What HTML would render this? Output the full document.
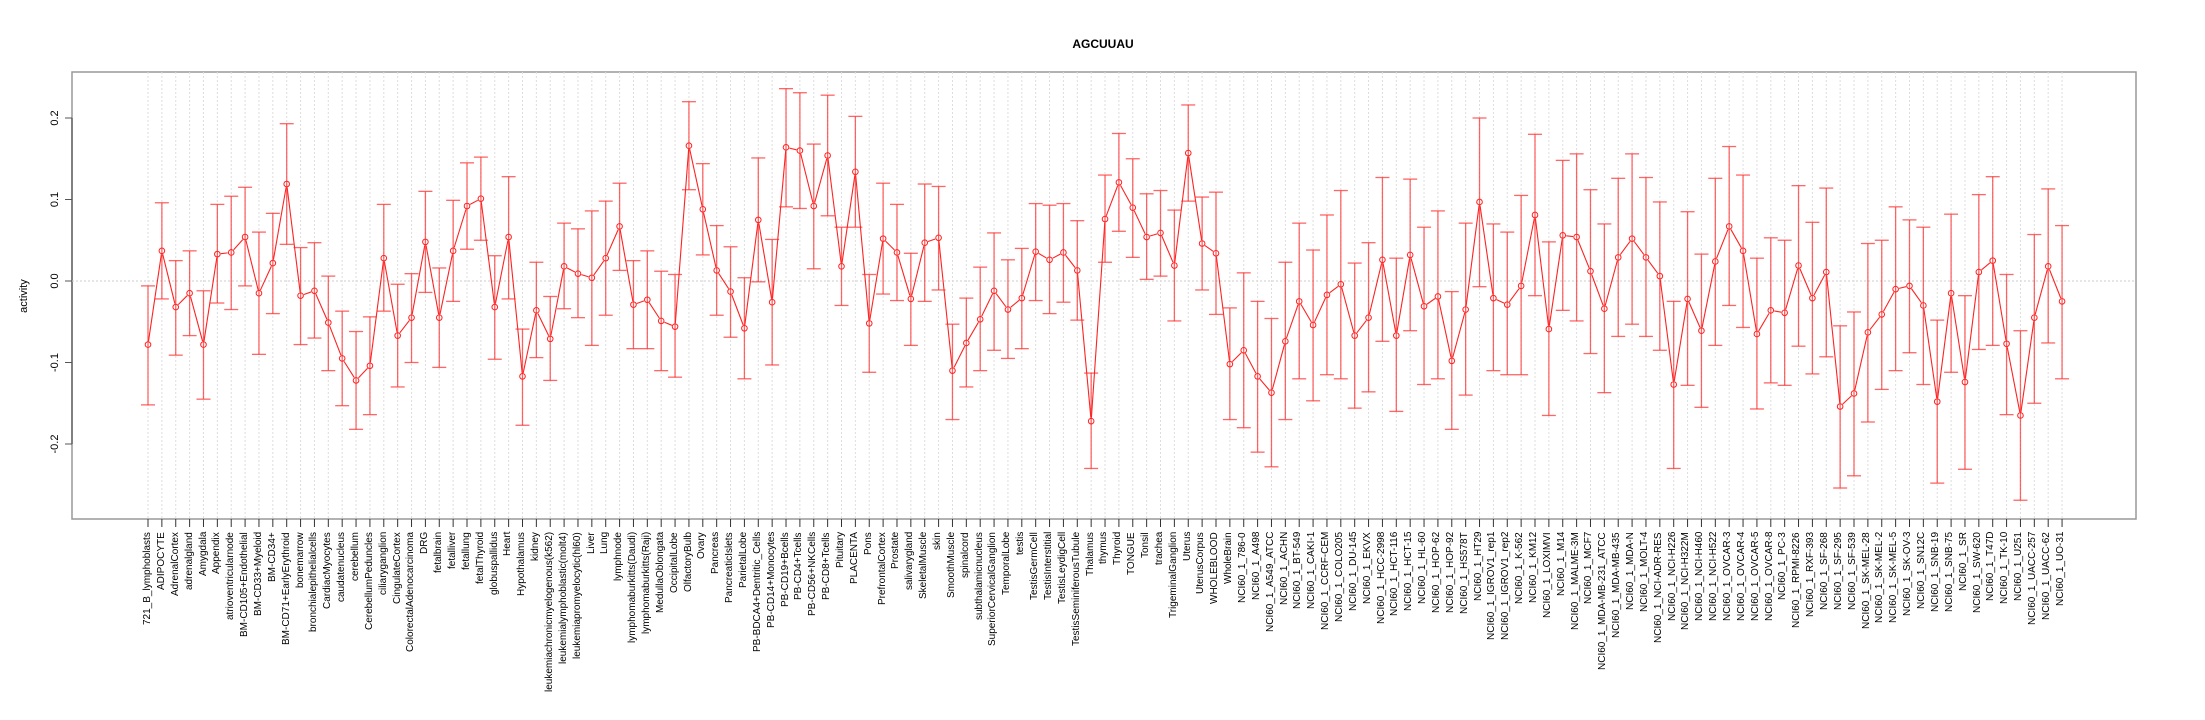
<!DOCTYPE html>
<html><head><meta charset="utf-8"><style>
html,body{margin:0;padding:0;background:#fff;}
#wrap{position:relative;width:2205px;height:720px;overflow:hidden;font-family:"Liberation Sans",Arial,sans-serif;}
svg{position:absolute;left:0;top:0;}
#labels{position:absolute;left:141.07px;top:532px;display:grid;grid-template-columns:repeat(139,13.87px);height:160px;}
#labels span{writing-mode:vertical-rl;transform:rotate(180deg);text-align:end;font-size:10px;line-height:13.87px;height:160px;white-space:nowrap;color:#000;}
</style></head><body><div id="wrap">
<svg id="s" width="2205" height="720" xmlns="http://www.w3.org/2000/svg">
<text x="1103" y="48" text-anchor="middle" font-family="Liberation Sans, sans-serif" font-weight="bold" font-size="12">AGCUUAU</text>
<rect x="72" y="72" width="2064" height="447" fill="none" stroke="#999" stroke-width="1.5"/>
<line x1="72" y1="118" x2="72" y2="444" stroke="#666" stroke-width="1.5"/>
<g stroke="#555" stroke-width="1">
<line x1="65" y1="118" x2="72" y2="118"/><line x1="65" y1="199.5" x2="72" y2="199.5"/><line x1="65" y1="281" x2="72" y2="281"/><line x1="65" y1="362.5" x2="72" y2="362.5"/><line x1="65" y1="444" x2="72" y2="444"/>
</g>
<g font-family="Liberation Sans, sans-serif" font-size="11" text-anchor="middle">
<text transform="translate(58,118) rotate(-90)">0.2</text>
<text transform="translate(58,199.5) rotate(-90)">0.1</text>
<text transform="translate(58,281) rotate(-90)">0.0</text>
<text transform="translate(58,362.5) rotate(-90)">-0.1</text>
<text transform="translate(58,444) rotate(-90)">-0.2</text>
<text transform="translate(27,296) rotate(-90)">activity</text>
</g>
<line x1="72" y1="281" x2="2136" y2="281" stroke="#ccc" stroke-width="1" stroke-dasharray="2,2"/>
<g id="g"></g>
</svg>
<div id="labels">
<span>721_B_lymphoblasts</span><span>ADIPOCYTE</span><span>AdrenalCortex</span><span>adrenalgland</span><span>Amygdala</span><span>Appendix</span><span>atrioventricularnode</span><span>BM-CD105+Endothelial</span><span>BM-CD33+Myeloid</span><span>BM-CD34+</span><span>BM-CD71+EarlyErythroid</span><span>bonemarrow</span><span>bronchialepithelialcells</span><span>CardiacMyocytes</span><span>caudatenucleus</span><span>cerebellum</span><span>CerebellumPeduncles</span><span>ciliaryganglion</span><span>CingulateCortex</span><span>ColorectalAdenocarcinoma</span><span>DRG</span><span>fetalbrain</span><span>fetalliver</span><span>fetallung</span><span>fetalThyroid</span><span>globuspallidus</span><span>Heart</span><span>Hypothalamus</span><span>kidney</span><span>leukemiachronicmyelogenous(k562)</span><span>leukemialymphoblastic(molt4)</span><span>leukemiapromyelocytic(hl60)</span><span>Liver</span><span>Lung</span><span>lymphnode</span><span>lymphomaburkitts(Daudi)</span><span>lymphomaburkitts(Raji)</span><span>MedullaOblongata</span><span>OccipitalLobe</span><span>OlfactoryBulb</span><span>Ovary</span><span>Pancreas</span><span>PancreaticIslets</span><span>ParietalLobe</span><span>PB-BDCA4+Dentritic_Cells</span><span>PB-CD14+Monocytes</span><span>PB-CD19+Bcells</span><span>PB-CD4+Tcells</span><span>PB-CD56+NKCells</span><span>PB-CD8+Tcells</span><span>Pituitary</span><span>PLACENTA</span><span>Pons</span><span>PrefrontalCortex</span><span>Prostate</span><span>salivarygland</span><span>SkeletalMuscle</span><span>skin</span><span>SmoothMuscle</span><span>spinalcord</span><span>subthalamicnucleus</span><span>SuperiorCervicalGanglion</span><span>TemporalLobe</span><span>testis</span><span>TestisGermCell</span><span>TestisInterstitial</span><span>TestisLeydigCell</span><span>TestisSeminiferousTubule</span><span>Thalamus</span><span>thymus</span><span>Thyroid</span><span>TONGUE</span><span>Tonsil</span><span>trachea</span><span>TrigeminalGanglion</span><span>Uterus</span><span>UterusCorpus</span><span>WHOLEBLOOD</span><span>WholeBrain</span><span>NCI60_1_786-0</span><span>NCI60_1_A498</span><span>NCI60_1_A549_ATCC</span><span>NCI60_1_ACHN</span><span>NCI60_1_BT-549</span><span>NCI60_1_CAKI-1</span><span>NCI60_1_CCRF-CEM</span><span>NCI60_1_COLO205</span><span>NCI60_1_DU-145</span><span>NCI60_1_EKVX</span><span>NCI60_1_HCC-2998</span><span>NCI60_1_HCT-116</span><span>NCI60_1_HCT-15</span><span>NCI60_1_HL-60</span><span>NCI60_1_HOP-62</span><span>NCI60_1_HOP-92</span><span>NCI60_1_HS578T</span><span>NCI60_1_HT29</span><span>NCI60_1_IGROV1_rep1</span><span>NCI60_1_IGROV1_rep2</span><span>NCI60_1_K-562</span><span>NCI60_1_KM12</span><span>NCI60_1_LOXIMVI</span><span>NCI60_1_M14</span><span>NCI60_1_MALME-3M</span><span>NCI60_1_MCF7</span><span>NCI60_1_MDA-MB-231_ATCC</span><span>NCI60_1_MDA-MB-435</span><span>NCI60_1_MDA-N</span><span>NCI60_1_MOLT-4</span><span>NCI60_1_NCI-ADR-RES</span><span>NCI60_1_NCI-H226</span><span>NCI60_1_NCI-H322M</span><span>NCI60_1_NCI-H460</span><span>NCI60_1_NCI-H522</span><span>NCI60_1_OVCAR-3</span><span>NCI60_1_OVCAR-4</span><span>NCI60_1_OVCAR-5</span><span>NCI60_1_OVCAR-8</span><span>NCI60_1_PC-3</span><span>NCI60_1_RPMI-8226</span><span>NCI60_1_RXF-393</span><span>NCI60_1_SF-268</span><span>NCI60_1_SF-295</span><span>NCI60_1_SF-539</span><span>NCI60_1_SK-MEL-28</span><span>NCI60_1_SK-MEL-2</span><span>NCI60_1_SK-MEL-5</span><span>NCI60_1_SK-OV-3</span><span>NCI60_1_SN12C</span><span>NCI60_1_SNB-19</span><span>NCI60_1_SNB-75</span><span>NCI60_1_SR</span><span>NCI60_1_SW-620</span><span>NCI60_1_T47D</span><span>NCI60_1_TK-10</span><span>NCI60_1_U251</span><span>NCI60_1_UACC-257</span><span>NCI60_1_UACC-62</span><span>NCI60_1_UO-31</span>
</div>
</div>
<script>
var D=[[-0.078,-0.006,-0.152],[0.037,0.096,-0.022],[-0.032,0.025,-0.091],[-0.015,0.037,-0.067],[-0.078,-0.012,-0.145],[0.033,0.094,-0.027],[0.035,0.104,-0.035],[0.054,0.115,-0.006],[-0.015,0.06,-0.09],[0.022,0.083,-0.04],
[0.119,0.193,0.045],[-0.018,0.041,-0.078],[-0.012,0.047,-0.07],[-0.051,0.006,-0.11],[-0.095,-0.037,-0.153],[-0.122,-0.062,-0.182],[-0.104,-0.044,-0.164],[0.028,0.094,-0.037],[-0.067,-0.004,-0.13],[-0.045,0.009,-0.1],
[0.048,0.11,-0.014],[-0.045,0.016,-0.106],[0.037,0.099,-0.025],[0.092,0.145,0.039],[0.101,0.152,0.05],[-0.032,0.031,-0.096],[0.054,0.128,-0.022],[-0.117,-0.059,-0.177],[-0.036,0.023,-0.094],[-0.071,-0.019,-0.122],
[0.018,0.071,-0.034],[0.009,0.064,-0.045],[0.004,0.086,-0.079],[0.028,0.098,-0.042],[0.067,0.12,0.013],[-0.029,0.025,-0.083],[-0.023,0.037,-0.083],[-0.049,0.012,-0.11],[-0.056,0.008,-0.118],[0.166,0.22,0.112],
[0.088,0.144,0.032],[0.013,0.068,-0.042],[-0.013,0.042,-0.069],[-0.058,0.004,-0.12],[0.075,0.151,-0.001],[-0.026,0.051,-0.103],[0.164,0.236,0.091],[0.16,0.231,0.089],[0.092,0.168,0.015],[0.154,0.228,0.08],
[0.018,0.066,-0.03],[0.134,0.202,0.066],[-0.052,0.008,-0.112],[0.052,0.12,-0.016],[0.035,0.094,-0.024],[-0.022,0.034,-0.079],[0.047,0.119,-0.025],[0.053,0.116,-0.011],[-0.11,-0.053,-0.17],[-0.076,-0.021,-0.13],
[-0.047,0.017,-0.11],[-0.012,0.059,-0.085],[-0.035,0.026,-0.095],[-0.021,0.04,-0.083],[0.036,0.095,-0.024],[0.026,0.093,-0.04],[0.035,0.095,-0.026],[0.013,0.074,-0.048],[-0.172,-0.113,-0.23],[0.076,0.13,0.023],
[0.121,0.181,0.061],[0.09,0.15,0.029],[0.054,0.107,0.002],[0.059,0.111,0.006],[0.019,0.087,-0.049],[0.157,0.216,0.098],[0.046,0.103,-0.011],[0.034,0.109,-0.041],[-0.102,-0.033,-0.17],[-0.085,0.01,-0.18],
[-0.117,-0.025,-0.21],[-0.137,-0.046,-0.228],[-0.074,0.023,-0.17],[-0.025,0.071,-0.12],[-0.054,0.038,-0.147],[-0.017,0.081,-0.115],[-0.004,0.111,-0.12],[-0.067,0.022,-0.156],[-0.045,0.047,-0.136],[0.026,0.127,-0.074],
[-0.067,0.028,-0.16],[0.032,0.125,-0.061],[-0.031,0.066,-0.127],[-0.019,0.086,-0.12],[-0.098,-0.013,-0.182],[-0.035,0.071,-0.14],[0.097,0.2,-0.007],[-0.021,0.07,-0.11],[-0.029,0.06,-0.115],[-0.006,0.105,-0.115],
[0.081,0.18,-0.018],[-0.059,0.048,-0.165],[0.056,0.148,-0.036],[0.054,0.156,-0.049],[0.012,0.112,-0.089],[-0.034,0.07,-0.137],[0.029,0.126,-0.068],[0.052,0.156,-0.053],[0.029,0.127,-0.068],[0.006,0.097,-0.085],
[-0.127,-0.025,-0.23],[-0.022,0.085,-0.128],[-0.061,0.033,-0.155],[0.024,0.126,-0.079],[0.067,0.165,-0.03],[0.037,0.13,-0.057],[-0.065,0.028,-0.157],[-0.036,0.053,-0.125],[-0.039,0.05,-0.128],[0.019,0.117,-0.08],
[-0.021,0.072,-0.114],[0.011,0.114,-0.093],[-0.154,-0.055,-0.254],[-0.138,-0.038,-0.239],[-0.063,0.046,-0.173],[-0.041,0.05,-0.133],[-0.01,0.091,-0.11],[-0.006,0.075,-0.088],[-0.03,0.066,-0.127],[-0.148,-0.048,-0.248],
[-0.015,0.082,-0.112],[-0.124,-0.018,-0.231],[0.011,0.106,-0.084],[0.025,0.128,-0.079],[-0.077,0.008,-0.164],[-0.165,-0.061,-0.269],[-0.045,0.057,-0.15],[0.018,0.113,-0.076],[-0.025,0.068,-0.12]];
var X=function(i){return 148+13.87*i;},Y=function(v){return 281-v*815;};
var h='';
for(var i=0;i<D.length;i++){var x=X(i).toFixed(2);
h+='<line x1="'+x+'" y1="72" x2="'+x+'" y2="519" stroke="#ddd" stroke-width="1" stroke-dasharray="2,2"/>';
h+='<line x1="'+x+'" y1="519" x2="'+x+'" y2="527" stroke="#333" stroke-width="1"/>';}
for(var i=0;i<D.length;i++){var x=X(i),d=D[i],t=Y(d[1]),b=Y(d[2]);
h+='<g stroke="#ff3333" stroke-opacity="0.75" stroke-width="1.3"><line x1="'+x+'" y1="'+t+'" x2="'+x+'" y2="'+b+'"/><line x1="'+(x-7)+'" y1="'+t+'" x2="'+(x+7)+'" y2="'+t+'"/><line x1="'+(x-7)+'" y1="'+b+'" x2="'+(x+7)+'" y2="'+b+'"/></g>';}
for(var i=0;i<D.length-1;i++){var x1=X(i),y1=Y(D[i][0]),x2=X(i+1),y2=Y(D[i+1][0]);var dx=x2-x1,dy=y2-y1,L=Math.sqrt(dx*dx+dy*dy);if(L<8)continue;var ux=dx/L,uy=dy/L;
h+='<line x1="'+(x1+ux*3.5)+'" y1="'+(y1+uy*3.5)+'" x2="'+(x2-ux*3.5)+'" y2="'+(y2-uy*3.5)+'" stroke="#ff2222" stroke-width="1.1"/>';}
for(var i=0;i<D.length;i++){h+='<circle cx="'+X(i)+'" cy="'+Y(D[i][0])+'" r="2.8" fill="none" stroke="#ff2222" stroke-width="1"/>';}
document.getElementById('g').innerHTML=h;
</script>
</body></html>
